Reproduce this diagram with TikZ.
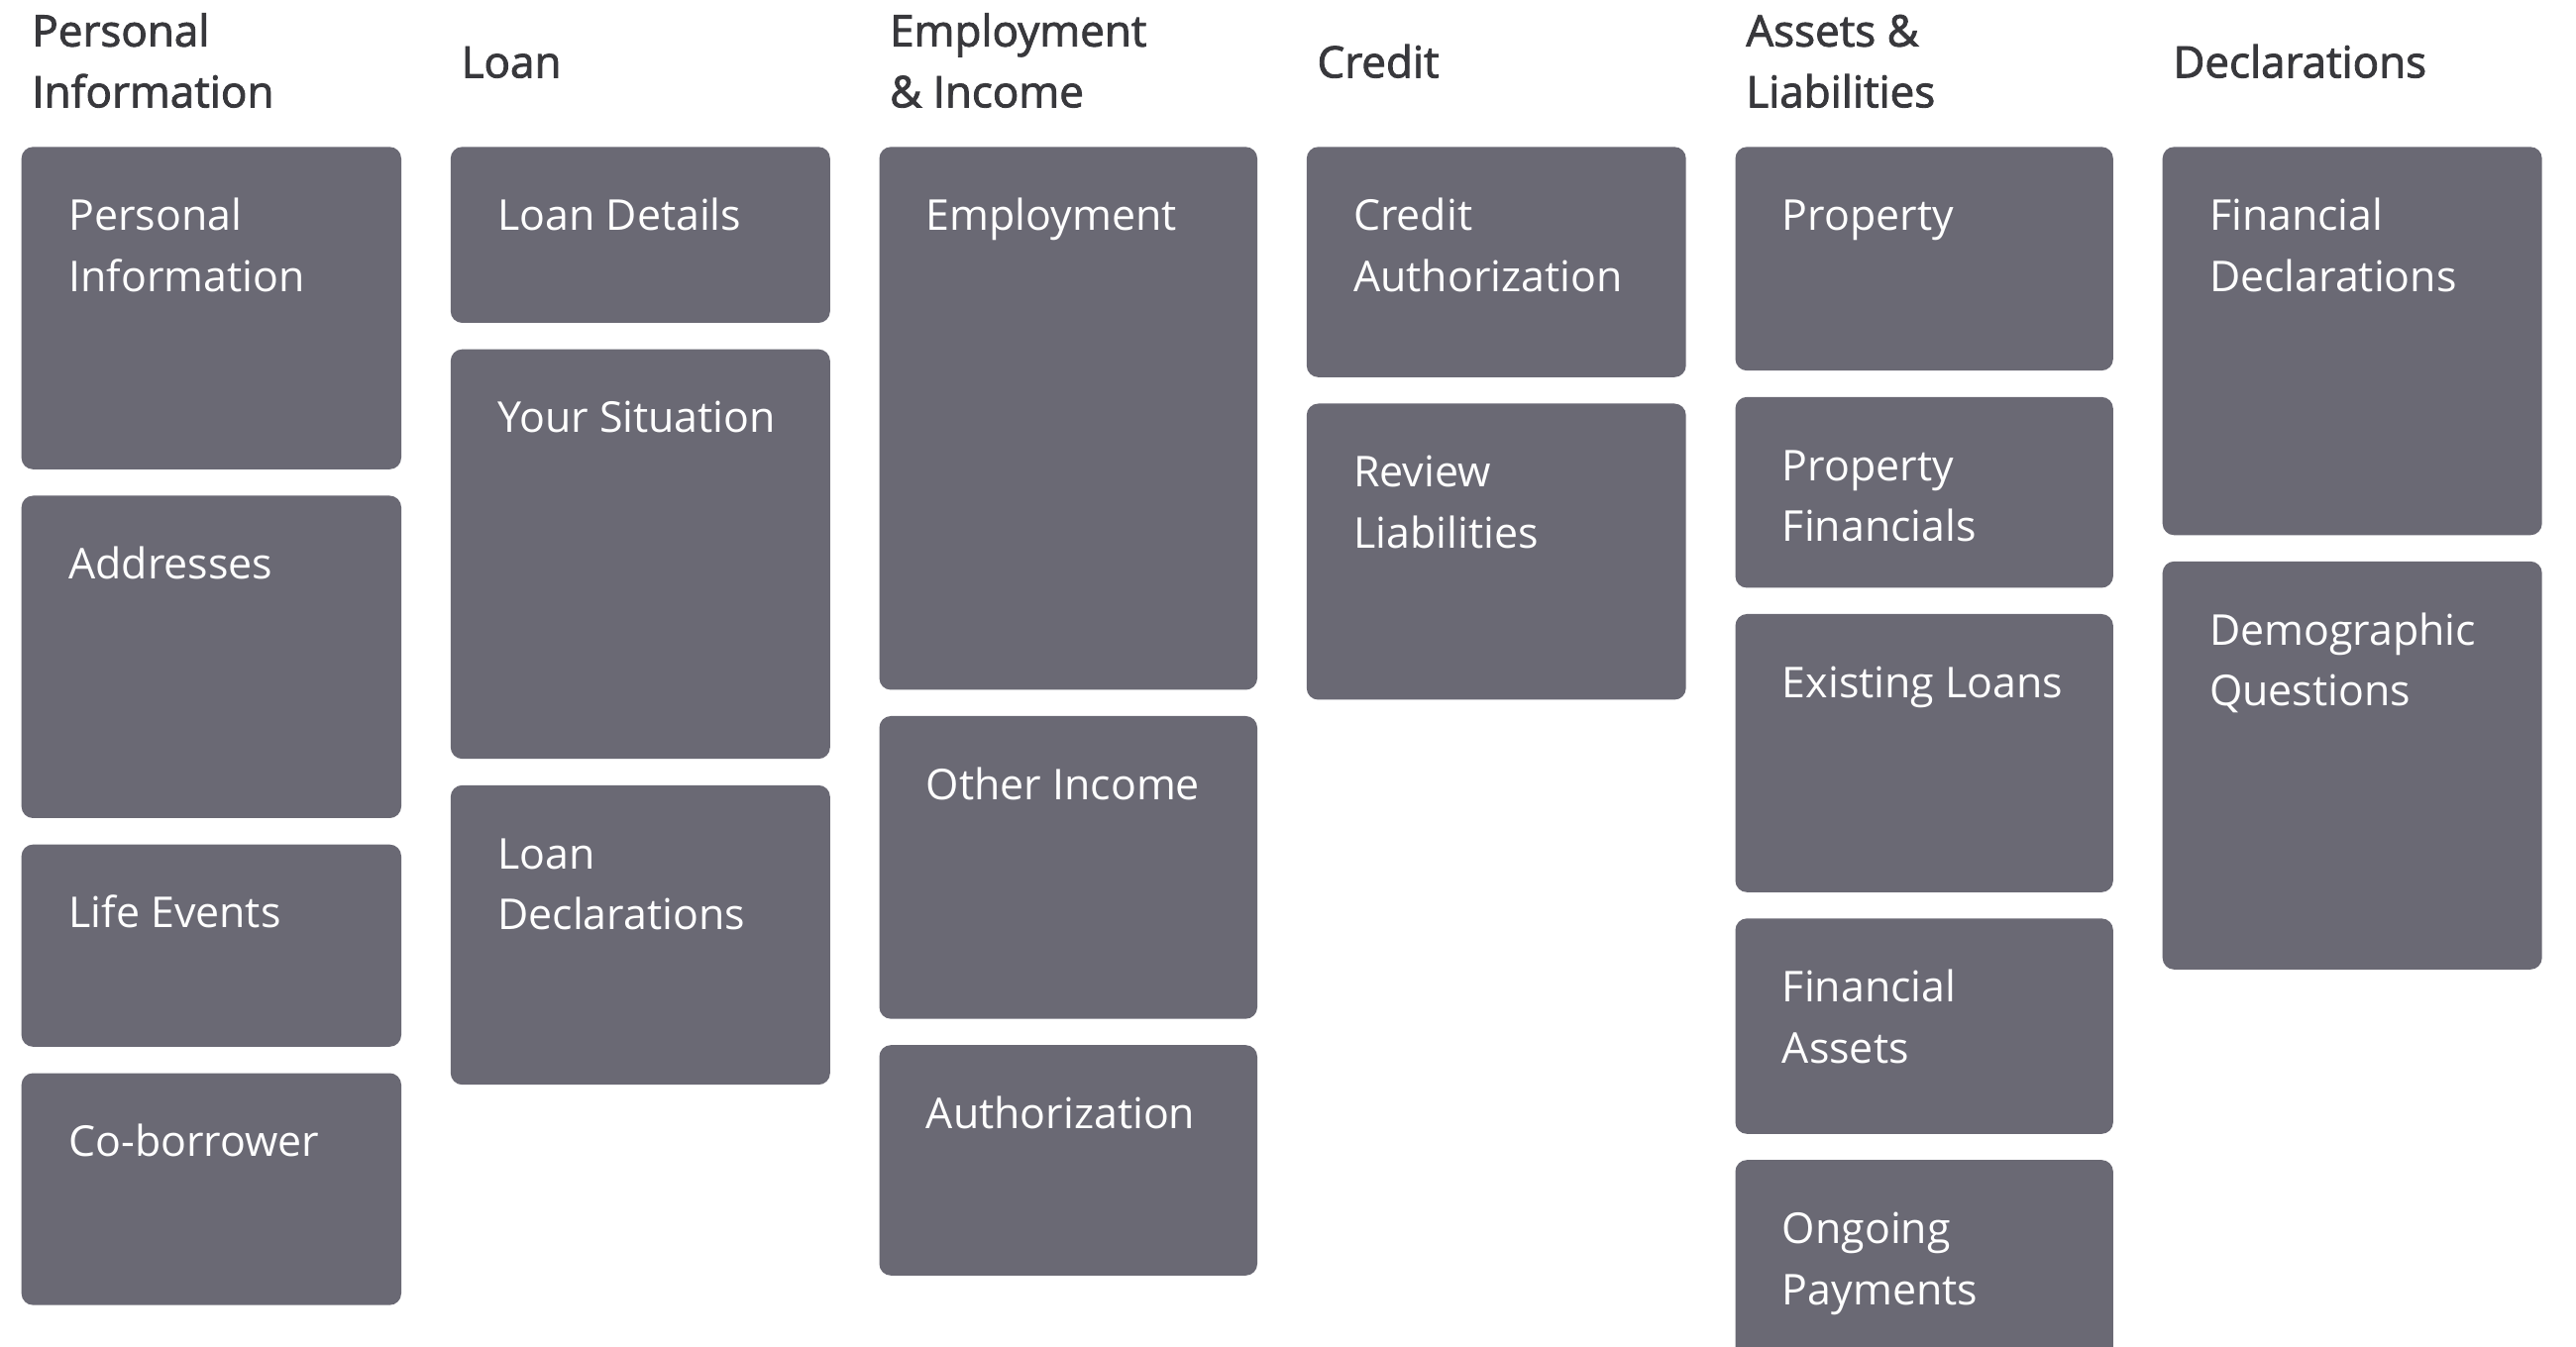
\documentclass[tikz,border=0pt]{standalone}
\usepackage{fontspec}
\setmainfont{Open Sans}
\newfontfamily\headfont[FakeBold=2]{Open Sans}
\usepackage{tikz}

\definecolor{cardgray}{HTML}{6A6974}
\definecolor{headgray}{HTML}{38383C}

\tikzset{
  card/.style = {fill = cardgray, rounded corners = 0.117cm},
  cardtext/.style = {anchor = base west, align = left, inner sep = 0, text = white, font = \fontsize{12.2}{17.5}\selectfont},
  headtext/.style = {anchor = base west, align = left, inner sep = 0, text = headgray, font = \headfont\fontsize{12.5}{17.5}\selectfont}
}

\begin{document}
\begin{tikzpicture}[x = 0.016667cm, y = -0.016667cm]

\useasboundingbox ( 0, 0 ) rectangle ( 1560, 816 );

% Personal Information
\node [headtext] (hpers) at ( 19, 65 ) {Personal\\Information};
\fill [card] ( 13, 89 ) rectangle ( 243, 284.3 );
\fill [card] ( 13, 300.3 ) rectangle ( 243, 495.6 );
\fill [card] ( 13, 511.6 ) rectangle ( 243, 634.1 );
\fill [card] ( 13, 650.1 ) rectangle ( 243, 790.6 );
\node [cardtext] (persinfo) at ( 41.2, 176.5 ) {Personal\\Information};
\node [cardtext] (addresses) at ( 41.2, 350.8 ) {Addresses};
\node [cardtext] (lifeevents) at ( 41.2, 562.1 ) {Life Events};
\node [cardtext] (coborrower) at ( 41.2, 700.6 ) {Co-borrower};

% Loan
\node [headtext] (hloan) at ( 279, 47 ) {Loan};
\fill [card] ( 272.9, 89 ) rectangle ( 502.7, 195.6 );
\fill [card] ( 272.9, 211.6 ) rectangle ( 502.7, 459.7 );
\fill [card] ( 272.9, 475.7 ) rectangle ( 502.7, 657.1 );
\node [cardtext] (loandetails) at ( 301, 139.5 ) {Loan Details};
\node [cardtext] (situation) at ( 301, 262.1 ) {Your Situation};
\node [cardtext] (loandecl) at ( 301, 563.2 ) {Loan\\Declarations};

% Employment & Income
\node [headtext] (hemploy) at ( 538.5, 65 ) {Employment\\\& Income};
\fill [card] ( 532.5, 89 ) rectangle ( 761.4, 417.9 );
\fill [card] ( 532.5, 433.8 ) rectangle ( 761.4, 617.2 );
\fill [card] ( 532.5, 633.1 ) rectangle ( 761.4, 772.7 );
\node [cardtext] (employment) at ( 560.5, 139.5 ) {Employment};
\node [cardtext] (otherincome) at ( 560.5, 484.3 ) {Other Income};
\node [cardtext] (authorization) at ( 560.5, 683.6 ) {Authorization};

% Credit
\node [headtext] (hcredit) at ( 797.3, 47 ) {Credit};
\fill [card] ( 791.3, 89 ) rectangle ( 1021, 228.5 );
\fill [card] ( 791.3, 244.5 ) rectangle ( 1021, 423.9 );
\node [cardtext] (creditauth) at ( 819.3, 176.5 ) {Credit\\Authorization};
\node [cardtext] (reviewliab) at ( 819.3, 332 ) {Review\\Liabilities};

% Assets & Liabilities
\node [headtext] (hassets) at ( 1057, 65 ) {Assets \&\\Liabilities};
\fill [card] ( 1050.9, 89 ) rectangle ( 1279.7, 224.5 );
\fill [card] ( 1050.9, 240.5 ) rectangle ( 1279.7, 356.1 );
\fill [card] ( 1050.9, 372 ) rectangle ( 1279.7, 540.5 );
\fill [card] ( 1050.9, 556.4 ) rectangle ( 1279.7, 686.9 );
\fill [card] ( 1050.9, 702.7 ) rectangle ( 1279.7, 830 );
\node [cardtext] (property) at ( 1078.9, 139.5 ) {Property};
\node [cardtext] (propfin) at ( 1078.9, 328 ) {Property\\Financials};
\node [cardtext] (existloans) at ( 1078.9, 422.5 ) {Existing Loans};
\node [cardtext] (finassets) at ( 1078.9, 643.9 ) {Financial\\Assets};
\node [cardtext] (ongoing) at ( 1078.9, 790.2 ) {Ongoing\\Payments};

% Declarations
\node [headtext] (hdecl) at ( 1315.6, 47 ) {Declarations};
\fill [card] ( 1309.6, 89 ) rectangle ( 1539.4, 324.2 );
\fill [card] ( 1309.6, 340.1 ) rectangle ( 1539.4, 587.3 );
\node [cardtext] (findecl) at ( 1337.6, 176.5 ) {Financial\\Declarations};
\node [cardtext] (demographic) at ( 1337.6, 427.6 ) {Demographic\\Questions};

\end{tikzpicture}
\end{document}
